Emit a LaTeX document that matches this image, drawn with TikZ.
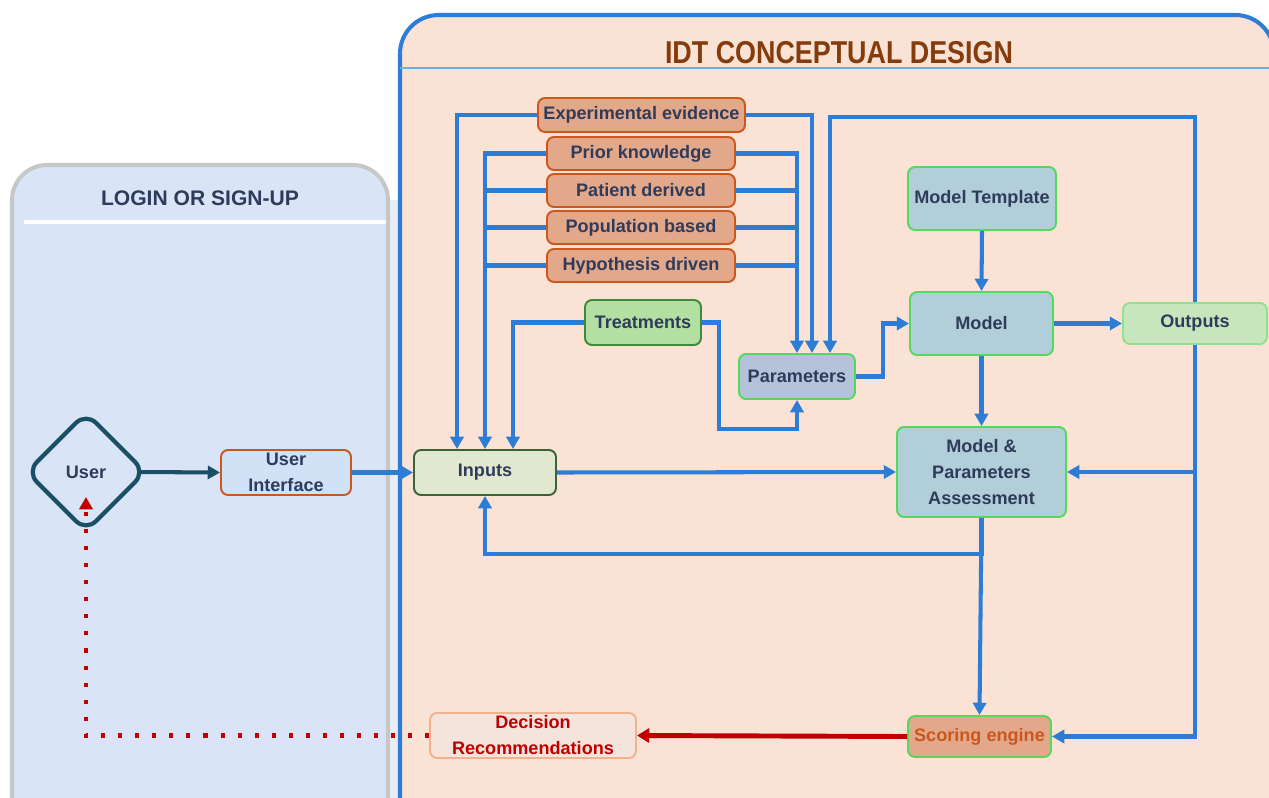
\documentclass[tikz,border=0pt]{standalone}
\usepackage{fontspec}
\setmainfont{Liberation Sans}
\newfontfamily\narrowfont[FakeStretch=0.85]{Liberation Sans}
\usetikzlibrary{arrows.meta,shapes.geometric}

\definecolor{ink}{HTML}{2F3B5A}
\definecolor{flowblue}{HTML}{2D7DD6}
\definecolor{darkred}{HTML}{C00000}
\definecolor{peach}{HTML}{FAE2D5}
\definecolor{skyfill}{HTML}{D9E5F7}
\definecolor{srcfill}{HTML}{E3A889}
\definecolor{srcline}{HTML}{C9571E}
\definecolor{modfill}{HTML}{B2CED9}
\definecolor{brightgreen}{HTML}{55D85E}
\definecolor{usrline}{HTML}{1B4F66}
\definecolor{titlebrown}{HTML}{843C0C}
\definecolor{uifill}{HTML}{D0E3F6}
\definecolor{inpfill}{HTML}{E2E8D0}
\definecolor{inpline}{HTML}{3A6437}
\definecolor{treatfill}{HTML}{B3DFA3}
\definecolor{treatline}{HTML}{3F8A3A}
\definecolor{parfill}{HTML}{B4C3D9}
\definecolor{outfill}{HTML}{C8E6BE}
\definecolor{outline}{HTML}{8FE08F}
\definecolor{decfill}{HTML}{F5E4DC}
\definecolor{decline}{HTML}{F4B18E}
\definecolor{gapfill}{HTML}{E9EEF4}

\begin{document}
\begin{tikzpicture}[x=0.02cm,y=-0.02cm]

	%\draw[help lines,step=50] (0,0) grid (1269,798);

	\tikzset{
		box/.style={draw,rounded corners=4pt,line width=1.1pt,align=center,text=ink,inner sep=1pt,font=\bfseries\fontsize{10.3}{14.8}\selectfont},
		srcbox/.style={box,fill=srcfill,draw=srcline,minimum width=3.76cm,minimum height=0.66cm},
		modbox/.style={box,fill=modfill,draw=brightgreen},
		flow/.style={draw=flowblue,line width=2.3pt,-{Triangle[length=7pt,width=7.5pt]}},
		link/.style={draw=flowblue,line width=2.3pt},
		dots/.style={draw=darkred,line width=2.3pt,dash pattern=on 2.3pt off 7.4pt,-{Triangle[length=7pt,width=7.5pt]}}
	}

	\useasboundingbox (0,0) rectangle (1269,798);
	\clip (0,0) rectangle (1269,798);

	% panels

	\fill[gapfill] (386,200) rectangle (402,798);
	\draw[fill=skyfill,draw=black!22,line width=2.3pt,rounded corners=20pt] (12,165) rectangle (388,840);
	\draw[white,line width=2.3pt] (24,222) -- (386,222);
	\node[text=ink,font=\bfseries\fontsize{12}{14}\selectfont] (login) at (200,198) {LOGIN OR SIGN-UP};

	\draw[fill=peach,draw=flowblue,line width=2.3pt,rounded corners=22pt] (400,15) rectangle (1274,840);
	\draw[cyan!70!blue!60,line width=0.6pt] (400,68) -- (1269,68);
	\node[text=titlebrown,font=\narrowfont\bfseries\fontsize{18}{20}\selectfont] (idt) at (839,53) {IDT CONCEPTUAL DESIGN};

	% user side

	\node[diamond,draw=usrline,fill=skyfill,line width=2.4pt,rounded corners=8pt,minimum width=2.4cm,minimum height=2.4cm,inner sep=0pt,text=ink,font=\bfseries\fontsize{10.3}{12}\selectfont] (usr) at (86,472) {User};
	\coordinate (usrout) at ([xshift=-0.2cm]usr.east);
	\coordinate (usrin) at ([yshift=-0.5cm]usr.center);
	\node[box,fill=uifill,draw=srcline,minimum width=2.6cm,minimum height=0.9cm] (ui) at (286,472.5) {User\\Interface};

	% sources

	\node[srcbox,minimum width=4.14cm,minimum height=0.68cm] (exp) at (641.5,115) {Experimental evidence};
	\foreach \n/\y/\t in {prior/153.5/Prior knowledge,pat/190.5/Patient derived,pop/227.5/Population based,hyp/265.5/Hypothesis driven} {
		\node[srcbox] (\n) at (641,\y) {\t};
	}
	\node[box,fill=treatfill,draw=treatline,minimum width=2.32cm,minimum height=0.9cm] (treat) at (643,322.5) {Treatments};

	% model

	\node[box,fill=inpfill,draw=inpline,minimum width=2.84cm,minimum height=0.9cm] (inp) at (485,472.5) {Inputs};
	\node[box,fill=parfill,draw=brightgreen,minimum width=2.32cm,minimum height=0.9cm] (par) at (797,376.5) {Parameters};
	\node[modbox,minimum width=2.96cm,minimum height=1.26cm] (tmpl) at (982,198.5) {Model Template};
	\node[modbox,minimum width=2.86cm,minimum height=1.26cm] (mod) at (981.5,323.5) {Model};
	\node[box,fill=outfill,draw=outline,minimum width=2.88cm,minimum height=0.82cm] (out) at (1195,323.5) {Outputs};
	\node[modbox,minimum width=3.38cm,minimum height=1.8cm] (ass) at (981.5,472) {Model \&\\Parameters\\Assessment};
	\node[box,fill=srcfill,draw=brightgreen,text=srcline,minimum width=2.86cm,minimum height=0.82cm] (sc) at (979.5,736.5) {Scoring engine};
	\node[box,fill=decfill,draw=decline,text=darkred,minimum width=4.12cm,minimum height=0.9cm] (dec) at (533,735.5) {Decision\\Recommendations};

	\coordinate (inA) at ([xshift=-0.56cm]inp.north);
	\coordinate (inC) at ([xshift=0.56cm]inp.north);
	\coordinate (parC) at ([xshift=0.3cm]par.north);
	\coordinate (parD) at ([xshift=0.66cm]par.north);
	\coordinate (topy) at (0,117);
	\coordinate (tbend) at (719,429);

	% connectors

	\draw[usrline,line width=2.3pt,-{Triangle[length=7pt,width=7.5pt]}] (usrout) -- (ui.west);
	\draw[flow] (ui.east) -- (inp.west);

	\draw[flow] (exp.west) -| (inA);
	\draw[flow] (prior.west) -| (inp.north);
	\draw[flow] (exp.east) -| (parC);
	\draw[flow] (prior.east) -| (par.north);
	\foreach \n in {pat,pop,hyp} {
		\draw[link] (\n.west) -- (\n.west -| inp.north);
		\draw[link] (\n.east) -- (\n.east -| par.north);
	}
	\draw[flow] (treat.west) -| (inC);
	\draw[flow] (treat.east) -| (tbend) -| (par.south);

	\draw[flow] (out.north) |- (topy -| parD) -- (parD);
	\draw[flow] (par.east) -- ++(27,0) |- (mod.west);
	\draw[flow] (tmpl.south) -- (mod.north);
	\draw[flow] (mod.east) -- (out.west);
	\draw[flow] (mod.south) -- (ass.north);
	\draw[flow] (inp.east) -- (ass.west);
	\draw[flow] (out.south) |- (sc.east);
	\draw[flow] (out.south |- ass.east) -- (ass.east);
	\draw[flow] (ass.south) -- (sc.north);
	\draw[flow] (ass.south) -- ++(0,36) -| (inp.south);

	\draw[darkred,line width=2.8pt,-{Triangle[length=7pt,width=8pt]}] (sc.west) -- (dec.east);
	\draw[dots] (dec.west) -| (usrin);

\end{tikzpicture}
\end{document}
